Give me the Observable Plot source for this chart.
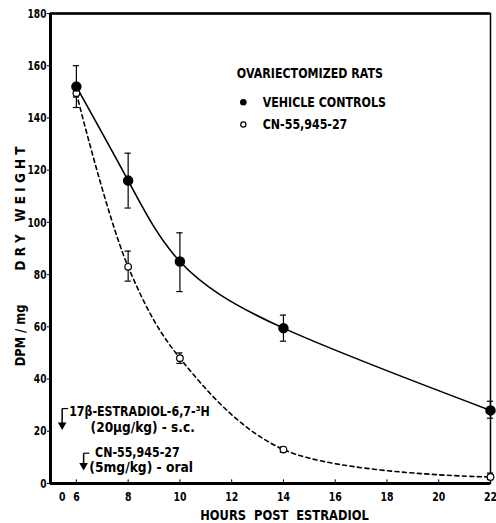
<!DOCTYPE html>
<html><head><meta charset="utf-8">
<script src="https://cdn.jsdelivr.net/npm/d3@7"></script>
<script src="https://cdn.jsdelivr.net/npm/@observablehq/plot@0.6"></script>
<style>body{margin:0;background:#fff}</style>
</head><body><div id="chart"></div>
<script>
const hours = [6, 8, 10, 14, 22];
const vehicleMean = [152, 116, 85, 59.5, 28];
const vehicleHi = [160, 126.5, 96, 64.5, 31.5];
const vehicleLo = [144, 105.5, 73.5, 54.5, 25];
const cnMean = [149.5, 83, 48, 13, 2.5];
const cnHi = [151, 89, 50, 14, 4];
const cnLo = [148, 77.5, 46, 12, 1.5];
const xTicks = [5.45, 6, 8, 10, 12, 14, 16, 18, 20, 22];
const xTickLabels = ["0", "6", "8", "10", "12", "14", "16", "18", "20", "22"];
const yTicks = [0, 20, 40, 60, 80, 100, 120, 140, 160, 180];
const legendTitle = "OVARIECTOMIZED RATS";
const legendLabels = ["VEHICLE CONTROLS", "CN-55,945-27"];
const annoArrows = [
  {x: 5.45, yTop: 28.7, yTip: 21.0, hook: 5.68},
  {x: 6.28, yTop: 11.6, yTip: 5.5, hook: 6.5}
];
const annoText = [
  {x: 5.72, y: 27.6, text: "17β-ESTRADIOL-6,7-³H"},
  {x: 6.55, y: 21.6, text: "(20µg/kg) - s.c."},
  {x: 6.72, y: 11.9, text: "CN-55,945-27"},
  {x: 6.5, y: 6.0, text: "(5mg/kg) - oral"}
];
const yTitleParts = ["DPM / mg", "D R Y   W E I G H T"];
const xTitle = "HOURS  POST  ESTRADIOL";

const vehicle = hours.map((h, i) => ({x: h, y: vehicleMean[i], hi: vehicleHi[i], lo: vehicleLo[i]}));
const cn = hours.map((h, i) => ({x: h, y: cnMean[i], hi: cnHi[i], lo: cnLo[i]}));
const cap = 0.12;
const font = "'DejaVu Sans', sans-serif";

const chart = Plot.plot({
  width: 496, height: 523,
  marginLeft: 50, marginRight: 6, marginTop: 13, marginBottom: 40,
  style: {fontFamily: font, fontWeight: "bold", fontSize: "13px", background: "#fff", color: "#000"},
  x: {domain: [5, 22]},
  y: {domain: [0, 180]},
  marks: [
    Plot.axisY({ticks: yTicks, tickSize: 3, tickPadding: 1, label: null, fontSize: 13, fontWeight: "bold"}),
    Plot.axisX({ticks: xTicks, tickSize: 0, tickPadding: 8, label: null, fontSize: 13, fontWeight: "bold",
      tickFormat: d => xTickLabels[xTicks.indexOf(d)]}),
    Plot.ruleX(xTicks.slice(1), {y1: 0, y2: 1.4, strokeWidth: 1}),
    Plot.frame({stroke: "#000", strokeWidth: 1.5}),
    Plot.ruleX([5], {strokeWidth: 3}),
    Plot.ruleY([0], {strokeWidth: 3}),
    Plot.ruleY([180], {strokeWidth: 2.5}),
    // curves
    Plot.line(vehicle, {x: "x", y: "y", curve: "natural", stroke: "#000", strokeWidth: 1.6}),
    Plot.line(cn, {x: "x", y: "y", curve: "catmull-rom", stroke: "#000", strokeWidth: 1.6, strokeDasharray: "4,3.5"}),
    // error bars
    Plot.ruleX(vehicle, {x: "x", y1: "lo", y2: "hi", strokeWidth: 1.2}),
    Plot.ruleY(vehicle, {y: "hi", x1: d => d.x - cap, x2: d => d.x + cap, strokeWidth: 1.2}),
    Plot.ruleY(vehicle, {y: "lo", x1: d => d.x - cap, x2: d => d.x + cap, strokeWidth: 1.2}),
    Plot.ruleX(cn, {x: "x", y1: "lo", y2: "hi", strokeWidth: 1.2}),
    Plot.ruleY(cn, {y: "hi", x1: d => d.x - cap, x2: d => d.x + cap, strokeWidth: 1.2}),
    Plot.ruleY(cn, {y: "lo", x1: d => d.x - cap, x2: d => d.x + cap, strokeWidth: 1.2}),
    Plot.dot(cn, {x: "x", y: "y", r: 3.3, fill: "#fff", stroke: "#000", strokeWidth: 1.2}),
    Plot.dot(vehicle, {x: "x", y: "y", r: 4.5, fill: "#000", stroke: "#000"}),
    // legend
    Plot.text([legendTitle], {x: 12.2, y: 157, text: d => d, textAnchor: "start", fontSize: 14, fontWeight: "bold"}),
    Plot.dot([0], {x: 12.45, y: 146, r: 3.3, fill: "#000"}),
    Plot.dot([0], {x: 12.45, y: 137.5, r: 2.6, fill: "#fff", stroke: "#000", strokeWidth: 1.2}),
    Plot.text([legendLabels[0]], {x: 13.2, y: 146, text: d => d, textAnchor: "start", fontSize: 14, fontWeight: "bold"}),
    Plot.text([legendLabels[1]], {x: 13.2, y: 137.5, text: d => d, textAnchor: "start", fontSize: 14, fontWeight: "bold"}),
    // annotations
    Plot.link(annoArrows, {x1: "x", x2: "x", y1: "yTop", y2: d => d.yTip + 2, strokeWidth: 1.5}),
    Plot.link(annoArrows, {x1: "x", x2: "hook", y1: "yTop", y2: "yTop", strokeWidth: 1.2}),
    Plot.dot(annoArrows, {x: "x", y: d => d.yTip + 1.4, symbol: "triangle", r: 3.2, fill: "#000", rotate: 180}),
    Plot.text(annoText, {x: "x", y: "y", text: "text", textAnchor: "start", fontSize: 14, fontWeight: "bold"}),
    // axis titles
    Plot.text([yTitleParts[0]], {x: 5, y: 56.7, text: d => d, rotate: -90, dx: -30, fontSize: 14, fontWeight: "bold"}),
    Plot.text([yTitleParts[1]], {x: 5, y: 105.3, text: d => d, rotate: -90, dx: -30, fontSize: 14, fontWeight: "bold"}),
    Plot.text([xTitle], {x: 14.04, y: 0, text: d => d, dy: 32, fontSize: 14, fontWeight: "bold"})
  ]
});
document.getElementById("chart").appendChild(chart);

// Narrow the lettering (horizontal scale about each text's anchor) to imitate the condensed type
const squeezeByGroup = {"y-axis tick label": 0.7, "x-axis tick label": 0.72};
const squeezeByText = {
  "(20µg/kg) - s.c.": 0.87, "(5mg/kg) - oral": 0.88,
  "D R Y   W E I G H T": 0.86, "DPM / mg": 0.82, "HOURS  POST  ESTRADIOL": 0.82
};
d3.select(chart).selectAll("text").each(function() {
  const label = this.parentNode && this.parentNode.getAttribute("aria-label");
  const f = squeezeByText[this.textContent] ?? squeezeByGroup[label] ?? 0.79;
  const ax = +(this.getAttribute("x") || 0);
  const t = this.getAttribute("transform") || "";
  this.setAttribute("transform", `${t} translate(${ax},0) scale(${f},1) translate(${-ax},0)`);
});
</script>
</body></html>
